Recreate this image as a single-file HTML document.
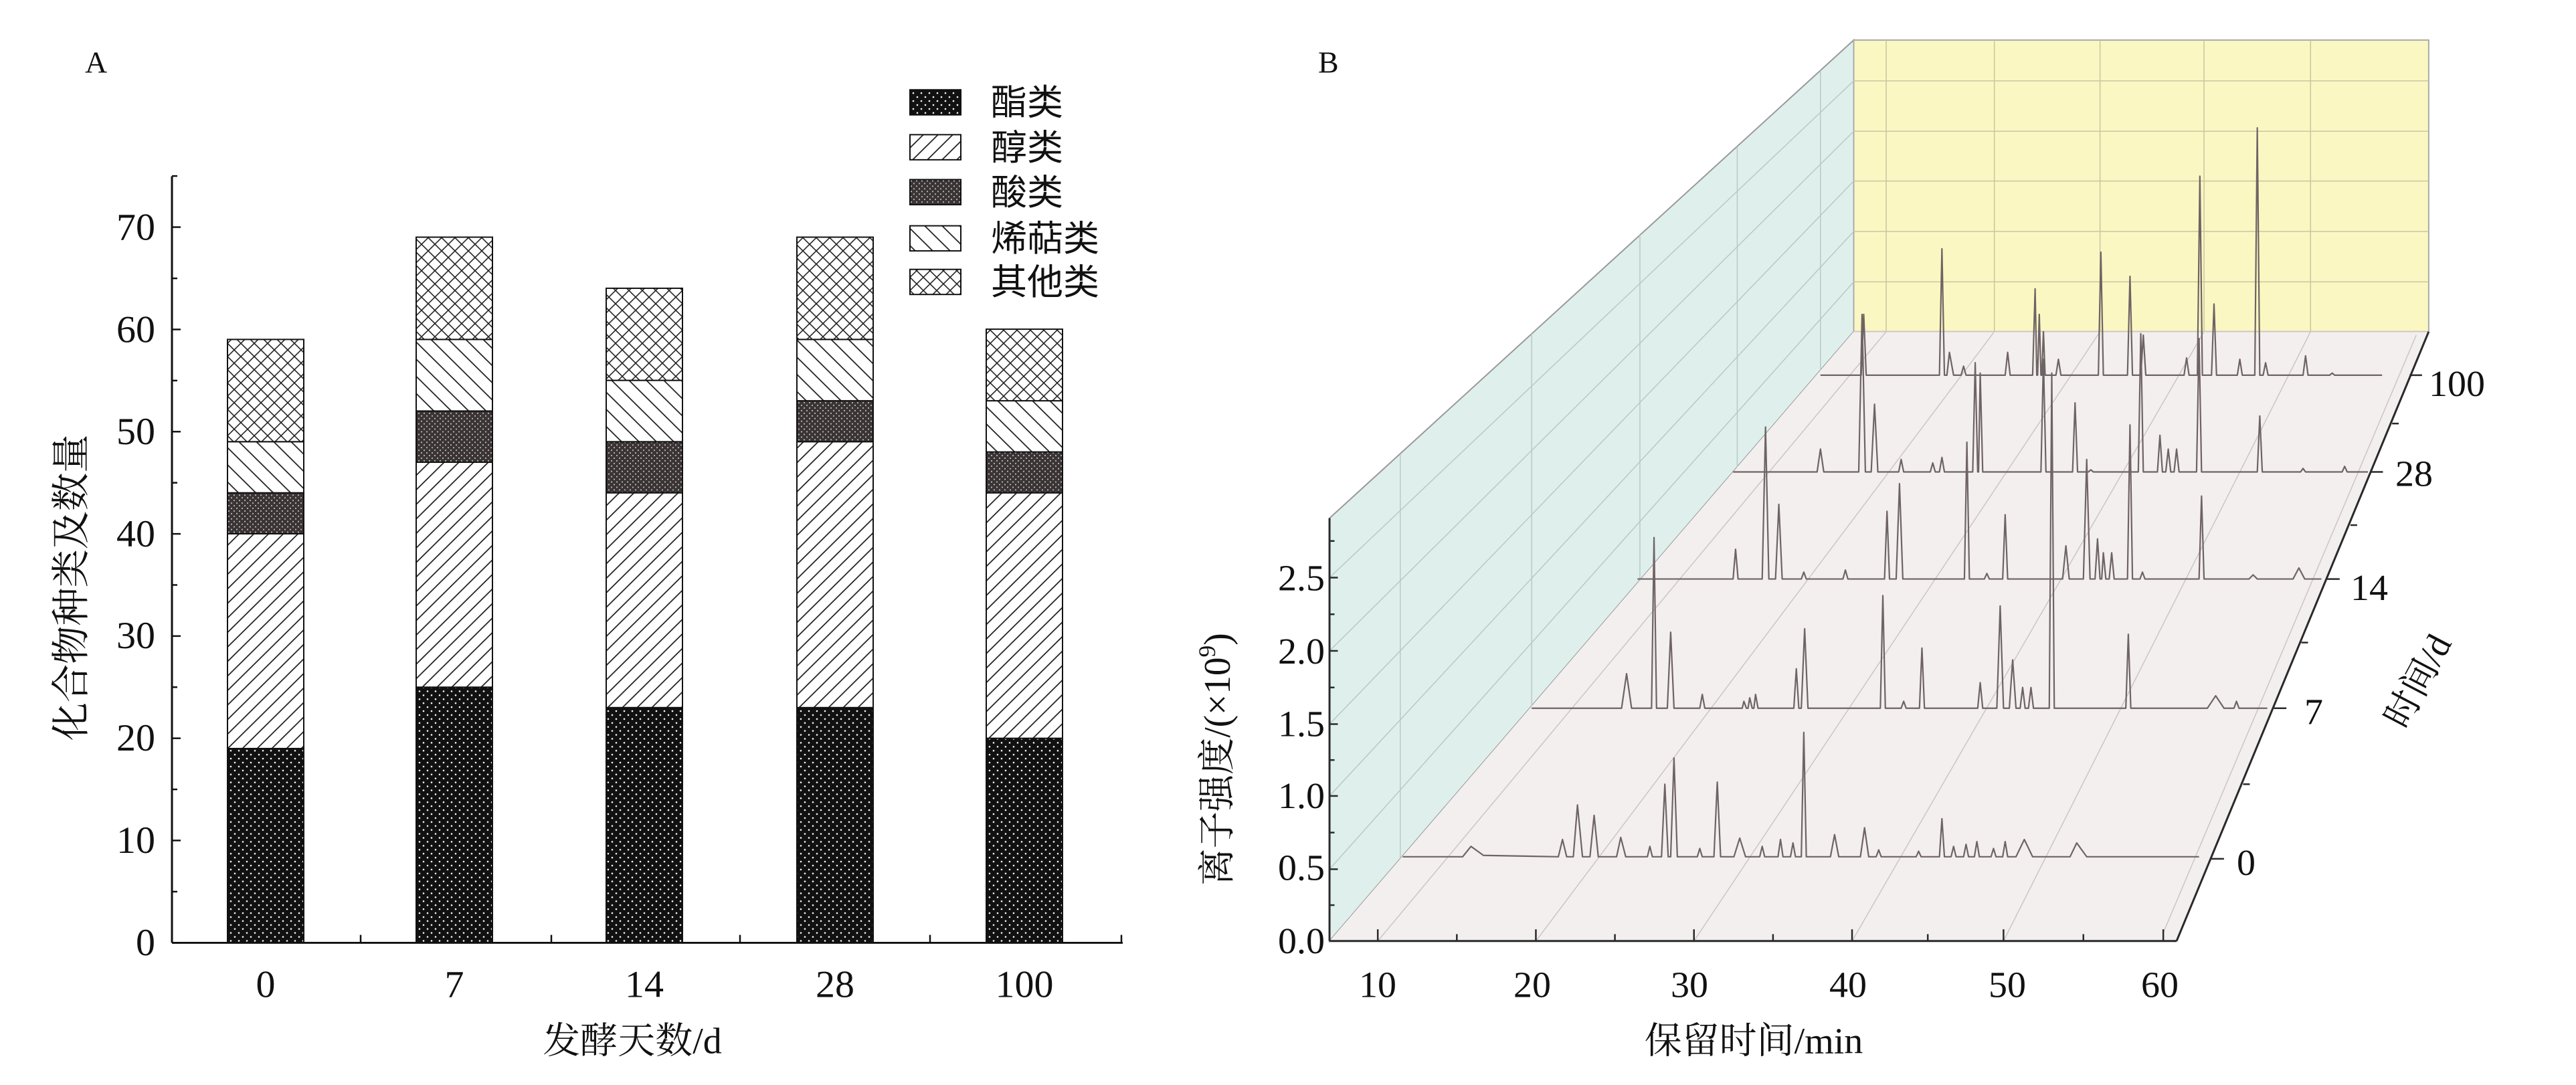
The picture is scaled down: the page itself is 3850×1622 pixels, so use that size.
<!DOCTYPE html>
<html><head><meta charset="utf-8"><style>
html,body{margin:0;padding:0;background:#fff}
svg{display:block}
.t{font-family:"Liberation Serif","Noto Serif CJK SC",serif;fill:#111}
.c{font-family:"Liberation Serif","Noto Serif CJK SC",serif;fill:#111}
.l{font-family:"Liberation Sans","Noto Sans CJK SC",sans-serif;fill:#111}
</style></head><body>
<svg width="3850" height="1622" viewBox="0 0 3850 1622" xmlns="http://www.w3.org/2000/svg">
<defs>
<pattern id="pE" patternUnits="userSpaceOnUse" width="12" height="12"><rect width="12" height="12" fill="#111"/><circle cx="3" cy="3" r="1.3" fill="#fff"/><circle cx="9" cy="9" r="1.3" fill="#fff"/></pattern>
<pattern id="pA" patternUnits="userSpaceOnUse" width="22" height="22"><rect width="22" height="22" fill="#fff"/><path d="M-2,24 L24,-2 M-2,2 L2,-2 M20,24 L24,20" stroke="#222" stroke-width="1.8"/></pattern>
<pattern id="pC" patternUnits="userSpaceOnUse" width="8" height="8"><rect width="8" height="8" fill="#3b3434"/><circle cx="2" cy="2" r="1.1" fill="#bbb"/><circle cx="6" cy="6" r="1.1" fill="#bbb"/></pattern>
<pattern id="pT" patternUnits="userSpaceOnUse" width="26" height="26"><rect width="26" height="26" fill="#fff"/><path d="M-2,-2 L28,28 M-2,24 L2,28 M24,-2 L28,2" stroke="#222" stroke-width="1.8"/></pattern>
<pattern id="pO" patternUnits="userSpaceOnUse" width="20" height="20"><rect width="20" height="20" fill="#fff"/><path d="M-2,22 L22,-2 M-2,-2 L22,22" stroke="#222" stroke-width="1.6"/></pattern>
</defs>
<g transform="scale(1,0.987)">
<!-- Panel A -->
<text class="t" x="127" y="110" font-size="46">A</text>
<g stroke="#111" stroke-width="3" fill="none">
<line x1="257" y1="267" x2="257" y2="1428"/>
<line x1="257" y1="1428" x2="1678" y2="1428"/>
</g>
<g stroke="#111" stroke-width="2.5">
<line x1="257" y1="1428" x2="270" y2="1428"/><line x1="257" y1="1350.5" x2="265" y2="1350.5"/>
<line x1="257" y1="1273" x2="270" y2="1273"/><line x1="257" y1="1195.6" x2="265" y2="1195.6"/>
<line x1="257" y1="1118.2" x2="270" y2="1118.2"/><line x1="257" y1="1040.8" x2="265" y2="1040.8"/>
<line x1="257" y1="963.4" x2="270" y2="963.4"/><line x1="257" y1="886" x2="265" y2="886"/>
<line x1="257" y1="808.6" x2="270" y2="808.6"/><line x1="257" y1="731.2" x2="265" y2="731.2"/>
<line x1="257" y1="653.8" x2="270" y2="653.8"/><line x1="257" y1="576.4" x2="265" y2="576.4"/>
<line x1="257" y1="499" x2="270" y2="499"/><line x1="257" y1="421.6" x2="265" y2="421.6"/>
<line x1="257" y1="344" x2="270" y2="344"/><line x1="257" y1="266.6" x2="265" y2="266.6"/>
<line x1="539" y1="1428" x2="539" y2="1416"/><line x1="824" y1="1428" x2="824" y2="1416"/>
<line x1="1106" y1="1428" x2="1106" y2="1416"/><line x1="1390" y1="1428" x2="1390" y2="1416"/>
<line x1="1676" y1="1428" x2="1676" y2="1416"/>
</g>
<g class="t" font-size="58" text-anchor="end">
<text x="232" y="1447">0</text><text x="232" y="1292">10</text><text x="232" y="1137">20</text>
<text x="232" y="982">30</text><text x="232" y="828">40</text><text x="232" y="673">50</text>
<text x="232" y="518">60</text><text x="232" y="363">70</text>
</g>
<g class="t" font-size="58" text-anchor="middle">
<text x="397" y="1510">0</text><text x="679" y="1510">7</text><text x="963" y="1510">14</text>
<text x="1248" y="1510">28</text><text x="1531" y="1510">100</text>
</g>
<text class="c" x="945" y="1595" font-size="56" text-anchor="middle">发酵天数/d</text>
<text class="c" transform="translate(126,890) rotate(-90)" font-size="58" text-anchor="middle">化合物种类及数量</text>

<g stroke="#111" stroke-width="2">
<rect x="340" y="1133.7" width="114" height="294.3" fill="url(#pE)"/>
<rect x="340" y="808.4" width="114" height="325.3" fill="url(#pA)"/>
<rect x="340" y="746.4" width="114" height="62" fill="url(#pC)"/>
<rect x="340" y="669" width="114" height="77.4" fill="url(#pT)"/>
<rect x="340" y="514.1" width="114" height="154.9" fill="url(#pO)"/>
<rect x="622" y="1040.8" width="114" height="387.2" fill="url(#pE)"/>
<rect x="622" y="700" width="114" height="340.8" fill="url(#pA)"/>
<rect x="622" y="622.5" width="114" height="77.5" fill="url(#pC)"/>
<rect x="622" y="514.1" width="114" height="108.4" fill="url(#pT)"/>
<rect x="622" y="359.2" width="114" height="154.9" fill="url(#pO)"/>
<rect x="906" y="1071.7" width="114" height="356.3" fill="url(#pE)"/>
<rect x="906" y="746.4" width="114" height="325.3" fill="url(#pA)"/>
<rect x="906" y="669" width="114" height="77.4" fill="url(#pC)"/>
<rect x="906" y="576.1" width="114" height="92.9" fill="url(#pT)"/>
<rect x="906" y="436.6" width="114" height="139.5" fill="url(#pO)"/>
<rect x="1191" y="1071.7" width="114" height="356.3" fill="url(#pE)"/>
<rect x="1191" y="669" width="114" height="402.7" fill="url(#pA)"/>
<rect x="1191" y="607" width="114" height="62" fill="url(#pC)"/>
<rect x="1191" y="514.1" width="114" height="92.9" fill="url(#pT)"/>
<rect x="1191" y="359.2" width="114" height="154.9" fill="url(#pO)"/>
<rect x="1474" y="1118.2" width="114" height="309.8" fill="url(#pE)"/>
<rect x="1474" y="746.4" width="114" height="371.8" fill="url(#pA)"/>
<rect x="1474" y="684.5" width="114" height="61.9" fill="url(#pC)"/>
<rect x="1474" y="607" width="114" height="77.5" fill="url(#pT)"/>
<rect x="1474" y="498.6" width="114" height="108.4" fill="url(#pO)"/>
</g>
<g stroke="#111" stroke-width="2">
<rect x="1360" y="136" width="76" height="38" fill="url(#pE)"/>
<rect x="1360" y="204" width="76" height="38" fill="url(#pA)"/>
<rect x="1360" y="272" width="76" height="38" fill="url(#pC)"/>
<rect x="1360" y="342" width="76" height="38" fill="url(#pT)"/>
<rect x="1360" y="408" width="76" height="38" fill="url(#pO)"/>
</g>
<g class="l" font-size="54">
<text x="1481" y="174">酯类</text><text x="1481" y="242">醇类</text><text x="1481" y="310">酸类</text>
<text x="1481" y="380">烯萜类</text><text x="1481" y="446">其他类</text>
</g>

<!-- Panel B -->
<text class="t" x="1970" y="110" font-size="46">B</text>
<g transform="translate(1900,0) scale(1.2436,1.0465)">
<polygon points="70,750 700,58 700,480 70,1362" fill="#dff0ec" stroke="#999" stroke-width="2" vector-effect="non-scaling-stroke"/>
<rect x="700" y="58" width="691" height="422" fill="#fbf7c2" stroke="#aaa" stroke-width="2" vector-effect="non-scaling-stroke"/>
<polygon points="70,1362 1088,1362 1391,480 700,480" fill="#f3efee"/>
<g stroke="#b9c9c5" stroke-width="1.5" fill="none">
<line x1="70" y1="836" x2="700" y2="117" vector-effect="non-scaling-stroke"/>
<line x1="70" y1="942" x2="700" y2="190" vector-effect="non-scaling-stroke"/>
<line x1="70" y1="1048" x2="700" y2="262" vector-effect="non-scaling-stroke"/>
<line x1="70" y1="1152" x2="700" y2="335" vector-effect="non-scaling-stroke"/>
<line x1="70" y1="1258" x2="700" y2="408" vector-effect="non-scaling-stroke"/>
<line x1="155" y1="657" x2="155" y2="1243" vector-effect="non-scaling-stroke"/>
<line x1="313" y1="483" x2="313" y2="1022" vector-effect="non-scaling-stroke"/>
<line x1="443" y1="340" x2="443" y2="840" vector-effect="non-scaling-stroke"/>
<line x1="560" y1="212" x2="560" y2="676" vector-effect="non-scaling-stroke"/>
<line x1="660" y1="102" x2="660" y2="536" vector-effect="non-scaling-stroke"/>
</g>
<g stroke="#c9c6a2" stroke-width="1.5" fill="none">
<line x1="739" y1="58" x2="739" y2="480" vector-effect="non-scaling-stroke"/>
<line x1="869" y1="58" x2="869" y2="480" vector-effect="non-scaling-stroke"/>
<line x1="996" y1="58" x2="996" y2="480" vector-effect="non-scaling-stroke"/>
<line x1="1121" y1="58" x2="1121" y2="480" vector-effect="non-scaling-stroke"/>
<line x1="1249" y1="58" x2="1249" y2="480" vector-effect="non-scaling-stroke"/>
<line x1="700" y1="117" x2="1391" y2="117" vector-effect="non-scaling-stroke"/>
<line x1="700" y1="190" x2="1391" y2="190" vector-effect="non-scaling-stroke"/>
<line x1="700" y1="262" x2="1391" y2="262" vector-effect="non-scaling-stroke"/>
<line x1="700" y1="335" x2="1391" y2="335" vector-effect="non-scaling-stroke"/>
<line x1="700" y1="408" x2="1391" y2="408" vector-effect="non-scaling-stroke"/>
</g>
<g stroke="#cbc6c4" stroke-width="1.5" fill="none">
<line x1="128" y1="1362" x2="739" y2="480" vector-effect="non-scaling-stroke"/>
<line x1="318" y1="1362" x2="869" y2="480" vector-effect="non-scaling-stroke"/>
<line x1="508" y1="1362" x2="996" y2="480" vector-effect="non-scaling-stroke"/>
<line x1="698" y1="1362" x2="1121" y2="480" vector-effect="non-scaling-stroke"/>
<line x1="880" y1="1362" x2="1249" y2="480" vector-effect="non-scaling-stroke"/>
<line x1="1072" y1="1350" x2="1376" y2="485" vector-effect="non-scaling-stroke"/>
<line x1="700" y1="480" x2="1391" y2="480" vector-effect="non-scaling-stroke"/>
</g>
<g stroke="#6e6464" stroke-width="2.2" fill="none" stroke-linejoin="round">
<path vector-effect="non-scaling-stroke" d="M158,1240 L230,1240 L240,1225 L255,1238 L345,1240 L350,1215 L355,1240 L363,1240 L368,1165 L374,1240 L383,1240 L388,1180 L393,1240 L415,1240 L420,1212 L426,1240 L452,1240 L455,1225 L458,1240 L469,1240 L473,1135 L477,1240 L480,1240 L484,1097 L488,1240 L512,1240 L515,1228 L518,1240 L532,1240 L536,1132 L540,1240 L556,1240 L563,1213 L570,1240 L587,1240 L590,1225 L593,1240 L609,1240 L612,1215 L615,1240 L624,1240 L627,1220 L630,1240 L637,1240 L640,1060 L643,1240 L672,1240 L677,1208 L682,1240 L708,1240 L713,1198 L718,1240 L727,1240 L730,1230 L733,1240 L775,1240 L778,1232 L781,1240 L803,1240 L806,1185 L809,1240 L817,1240 L820,1225 L823,1240 L832,1240 L835,1222 L838,1240 L845,1240 L848,1218 L851,1240 L865,1240 L868,1228 L871,1240 L879,1240 L882,1218 L885,1240 L895,1240 L905,1215 L915,1240 L960,1240 L968,1220 L980,1240 L1115,1240"/>
<path vector-effect="non-scaling-stroke" d="M313,1025 L421,1025 L427,975 L433,1025 L457,1025 L460,778 L463,1025 L476,1025 L480,915 L484,1025 L515,1025 L518,1005 L521,1025 L566,1025 L568,1015 L571,1025 L573,1025 L575,1010 L578,1025 L580,1025 L582,1005 L585,1025 L628,1025 L631,968 L634,1025 L637,1025 L641,910 L645,1025 L732,1025 L735,862 L738,1025 L757,1025 L760,1015 L763,1025 L779,1025 L782,938 L785,1025 L849,1025 L852,988 L855,1025 L872,1025 L876,877 L880,1025 L887,1025 L891,955 L895,1025 L900,1025 L903,995 L906,1025 L910,1025 L913,995 L916,1025 L935,1025 L938,540 L941,1025 L1027,1025 L1030,918 L1033,1025 L1125,1025 L1135,1007 L1145,1025 L1157,1025 L1160,1015 L1163,1025 L1197,1025"/>
<path vector-effect="non-scaling-stroke" d="M440,838 L555,838 L558,795 L561,838 L590,838 L594,618 L598,838 L606,838 L610,730 L614,838 L637,838 L640,828 L643,838 L687,838 L690,825 L693,838 L737,838 L740,740 L743,838 L751,838 L755,700 L759,838 L833,838 L836,640 L839,838 L857,838 L860,830 L863,838 L879,838 L882,745 L885,838 L951,838 L955,790 L959,838 L976,838 L980,665 L984,838 L990,838 L993,780 L996,838 L998,838 L1000,800 L1003,838 L1007,838 L1010,800 L1013,838 L1029,838 L1032,615 L1035,838 L1044,838 L1047,828 L1050,838 L1115,838 L1118,718 L1121,838 L1175,838 L1180,832 L1185,838 L1228,838 L1235,822 L1242,838 L1262,838"/>
<path vector-effect="non-scaling-stroke" d="M555,683 L656,683 L660,650 L664,683 L706,683 L710,455 L714,683 L721,683 L725,585 L729,683 L754,683 L757,665 L760,683 L792,683 L795,670 L798,683 L803,683 L806,662 L809,683 L843,683 L846,525 L849,683 L850,683 L852,540 L855,683 L925,683 L928,520 L931,683 L963,683 L966,583 L969,683 L982,683 L985,680 L988,683 L1042,683 L1045,483 L1048,683 L1065,683 L1068,630 L1071,683 L1075,683 L1078,650 L1081,683 L1085,683 L1088,650 L1091,683 L1112,683 L1115,490 L1118,683 L1185,683 L1188,602 L1191,683 L1237,683 L1240,678 L1243,683 L1287,683 L1290,675 L1293,683 L1318,683"/>
<path vector-effect="non-scaling-stroke" d="M660,543 L709,543 L712,455 L715,543 L803,543 L806,360 L809,543 L812,543 L815,510 L820,543 L829,543 L832,530 L835,543 L882,543 L885,510 L888,543 L915,543 L918,418 L920,543 L921,543 L923,455 L925,543 L926,543 L928,480 L930,543 L943,543 L946,520 L949,543 L994,543 L997,365 L1000,543 L1029,543 L1032,400 L1035,543 L1045,543 L1048,485 L1051,543 L1097,543 L1100,518 L1103,543 L1113,543 L1116,255 L1119,543 L1130,543 L1133,440 L1136,543 L1161,543 L1164,520 L1167,543 L1182,543 L1185,185 L1188,543 L1192,543 L1195,525 L1198,543 L1240,543 L1243,515 L1246,543 L1272,543 L1275,540 L1278,543 L1335,543"/>
</g>
<g stroke="#2a2a2a" stroke-width="3" fill="none">
<line x1="70" y1="750" x2="70" y2="1362" vector-effect="non-scaling-stroke"/>
<line x1="70" y1="1362" x2="1088" y2="1362" vector-effect="non-scaling-stroke"/>
<line x1="1088" y1="1362" x2="1391" y2="480" vector-effect="non-scaling-stroke"/>
</g>
<g stroke="#2a2a2a" stroke-width="2.5">
<line x1="70" y1="836" x2="80" y2="836" vector-effect="non-scaling-stroke"/><line x1="70" y1="889" x2="76" y2="889" vector-effect="non-scaling-stroke"/>
<line x1="70" y1="942" x2="80" y2="942" vector-effect="non-scaling-stroke"/><line x1="70" y1="995" x2="76" y2="995" vector-effect="non-scaling-stroke"/>
<line x1="70" y1="1048" x2="80" y2="1048" vector-effect="non-scaling-stroke"/><line x1="70" y1="1100" x2="76" y2="1100" vector-effect="non-scaling-stroke"/>
<line x1="70" y1="1152" x2="80" y2="1152" vector-effect="non-scaling-stroke"/><line x1="70" y1="1205" x2="76" y2="1205" vector-effect="non-scaling-stroke"/>
<line x1="70" y1="1258" x2="80" y2="1258" vector-effect="non-scaling-stroke"/><line x1="70" y1="1310" x2="76" y2="1310" vector-effect="non-scaling-stroke"/>
<line x1="70" y1="783" x2="76" y2="783" vector-effect="non-scaling-stroke"/>
<line x1="128" y1="1362" x2="128" y2="1345" vector-effect="non-scaling-stroke"/><line x1="223" y1="1362" x2="223" y2="1352" vector-effect="non-scaling-stroke"/>
<line x1="318" y1="1362" x2="318" y2="1345" vector-effect="non-scaling-stroke"/><line x1="413" y1="1362" x2="413" y2="1352" vector-effect="non-scaling-stroke"/>
<line x1="508" y1="1362" x2="508" y2="1345" vector-effect="non-scaling-stroke"/><line x1="603" y1="1362" x2="603" y2="1352" vector-effect="non-scaling-stroke"/>
<line x1="698" y1="1362" x2="698" y2="1345" vector-effect="non-scaling-stroke"/><line x1="789" y1="1362" x2="789" y2="1352" vector-effect="non-scaling-stroke"/>
<line x1="880" y1="1362" x2="880" y2="1345" vector-effect="non-scaling-stroke"/><line x1="976" y1="1362" x2="976" y2="1352" vector-effect="non-scaling-stroke"/>
<line x1="1072" y1="1362" x2="1072" y2="1345" vector-effect="non-scaling-stroke"/>
<line x1="1130" y1="1243" x2="1145" y2="1243" vector-effect="non-scaling-stroke"/>
<line x1="1205" y1="1025" x2="1220" y2="1025" vector-effect="non-scaling-stroke"/>
<line x1="1269" y1="838" x2="1284" y2="838" vector-effect="non-scaling-stroke"/>
<line x1="1321" y1="683" x2="1336" y2="683" vector-effect="non-scaling-stroke"/>
<line x1="1368" y1="543" x2="1383" y2="543" vector-effect="non-scaling-stroke"/>
<line x1="1168" y1="1135" x2="1176" y2="1135" vector-effect="non-scaling-stroke"/>
<line x1="1238" y1="930" x2="1246" y2="930" vector-effect="non-scaling-stroke"/>
<line x1="1297" y1="760" x2="1305" y2="760" vector-effect="non-scaling-stroke"/>
<line x1="1347" y1="613" x2="1355" y2="613" vector-effect="non-scaling-stroke"/>
</g>
</g>
<g class="t" font-size="56" text-anchor="end">
<text x="1980" y="1444">0.0</text><text x="1980" y="1333">0.5</text><text x="1980" y="1224">1.0</text>
<text x="1980" y="1115">1.5</text><text x="1980" y="1005">2.0</text><text x="1980" y="894">2.5</text>
</g>
<g class="t" font-size="56" text-anchor="middle">
<text x="2059" y="1510">10</text><text x="2290" y="1510">20</text><text x="2525" y="1510">30</text>
<text x="2762" y="1510">40</text><text x="3000" y="1510">50</text><text x="3228" y="1510">60</text>
</g>
<g class="t" font-size="56">
<text x="3343" y="1325">0</text><text x="3444" y="1097">7</text><text x="3513" y="909">14</text>
<text x="3580" y="736">28</text><text x="3630" y="600">100</text>
</g>
<text class="c" x="2621" y="1595" font-size="56" text-anchor="middle">保留时间/min</text>
<text class="c" transform="translate(1838,1150) rotate(-90)" font-size="56" text-anchor="middle">离子强度/(×10<tspan font-size="36" dy="-22">9</tspan><tspan dy="22">)</tspan></text>
<text class="c" transform="translate(3630,1040) rotate(-62)" font-size="54" text-anchor="middle">时间/d</text>
</g>
</svg>
</body></html>
